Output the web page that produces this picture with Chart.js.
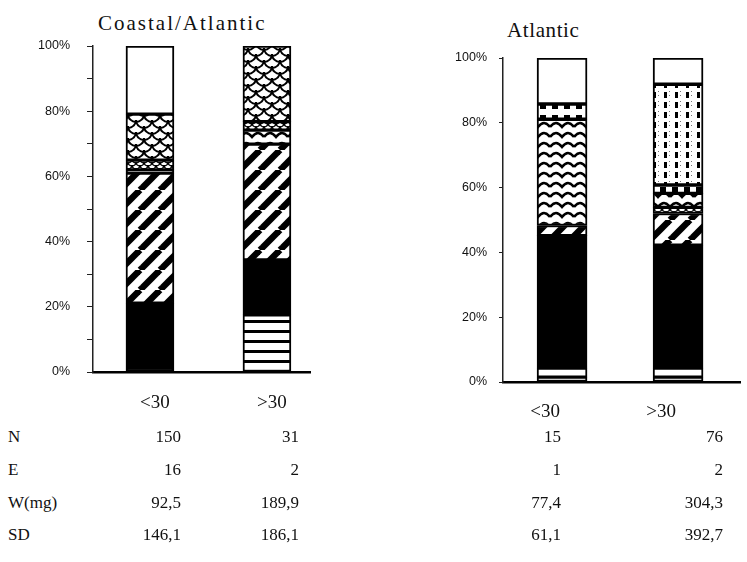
<!DOCTYPE html>
<html>
<head>
<meta charset="utf-8">
<script src="https://cdn.jsdelivr.net/npm/chart.js@4.4.1/dist/chart.umd.min.js"></script>
<style>
  body { margin: 0; background: #fff; width: 747px; height: 562px; position: relative; overflow: hidden;
         font-family: "Liberation Serif", serif; color: #111; }
  canvas { position: absolute; }
  .txt { position: absolute; white-space: nowrap; line-height: 20px; }
</style>
</head>
<body>
<div class="txt" style="left:98px;top:13px;font-size:21px;letter-spacing:2px">Coastal/Atlantic</div>
<div class="txt" style="left:507px;top:20px;font-size:21px;letter-spacing:0.6px">Atlantic</div>
<canvas id="chartLeft" width="330" height="390" style="left:0;top:30px"></canvas>
<canvas id="chartRight" width="317" height="390" style="left:430px;top:40px"></canvas>
<div id="stats"></div>
<script>
// /* data (percent of each prey type, bottom to top) */
const groups = ["<30", ">30"];

// Coastal/Atlantic
const leftStripes = [null, 17.5];
const leftBlack   = [21.1, 16.9];
const leftDiag    = [39.9, 35.5];
const leftGrey    = [1.0, null];
const leftWave    = [null, 4.3];
const leftDots    = [3.0, 2.6];
const leftScales  = [14.1, 23.2];
const leftWhite   = [20.9, null];

// Atlantic
const rightBase    = [1.5, 1.5];
const rightLow     = [2.8, 2.8];
const rightBlack   = [40.9, 37.9];
const rightDiag    = [3.1, 9.8];
const rightSmall   = [null, 1.9];
const rightWave    = [32.8, 4.3];
const rightSquares = [4.7, 2.6];
const rightDashes  = [null, 31.1];
const rightWhite   = [14.2, 8.1];

// table under the charts
const rowNames   = ["N", "E", "W(mg)", "SD"];
const leftStats  = [["150", "31"], ["16", "2"], ["92,5", "189,9"], ["146,1", "186,1"]];
const rightStats = [["15", "76"], ["1", "2"], ["77,4", "304,3"], ["61,1", "392,7"]];

/* fill patterns */
function makePattern(w, h, draw) {
  const c = document.createElement('canvas');
  c.width = w; c.height = h;
  const g = c.getContext('2d');
  g.fillStyle = '#fff';
  g.fillRect(0, 0, w, h);
  g.fillStyle = '#000';
  g.strokeStyle = '#000';
  draw(g, w, h);
  return g.createPattern(c, 'repeat');
}

const diagonal = makePattern(20, 20, (g, w, h) => {
  g.lineWidth = 6.5;
  for (const o of [-20, 0, 20]) {
    g.beginPath(); g.moveTo(o, h); g.lineTo(o + w, 0); g.stroke();
  }
});
const scales = makePattern(16, 12, g => {
  g.lineWidth = 2;
  for (const [cx, cy] of [[8, 0], [8, 12], [0, 6], [16, 6], [0, -6], [16, -6]]) {
    g.beginPath(); g.arc(cx, cy, 8, 0, Math.PI); g.stroke();
  }
});
const smallScales = makePattern(8, 6, g => {
  g.lineWidth = 1.5;
  for (const [cx, cy] of [[4, 0], [4, 6], [0, 3], [8, 3], [0, -3], [8, -3]]) {
    g.beginPath(); g.arc(cx, cy, 4, 0, Math.PI); g.stroke();
  }
});
const wave = makePattern(24, 10, g => {
  g.lineWidth = 2.5;
  g.beginPath();
  g.moveTo(0, 7);
  g.quadraticCurveTo(6, -1, 12, 7);
  g.quadraticCurveTo(18, -1, 24, 7);
  g.stroke();
});
const squares = makePattern(12, 12, g => { g.fillRect(2, 3, 6, 6); });
const dashes = makePattern(11, 10, g => {
  g.fillRect(3, 2, 3, 6);
  g.fillStyle = '#777';
  g.fillRect(8, 1, 1, 1);
  g.fillRect(8, 5, 1, 1);
});
const hstripes = makePattern(8, 10, g => { g.fillRect(0, 0, 8, 3); });

function series(values, fill, thickness) {
  return {
    data: values.map((v, i) => ({ x: i, y: v })),
    backgroundColor: fill,
    borderColor: '#000',
    borderWidth: 2,
    borderSkipped: false,
    barThickness: thickness
  };
}

function buildChart(canvas, datasets, o) {
  return new Chart(canvas, {
    type: 'bar',
    data: { datasets: datasets },
    options: {
      responsive: false,
      animation: false,
      events: [],
      layout: { padding: { top: o.top, right: o.right, left: 0, bottom: 0 } },
      plugins: { legend: { display: false }, tooltip: { enabled: false } },
      scales: {
        x: {
          type: 'linear',
          stacked: true,
          offset: false,
          min: o.xMin,
          max: o.xMax,
          afterFit: s => { s.height = 48; },
          afterBuildTicks: s => { s.ticks = groups.map((g, i) => ({ value: i })); },
          grid: { drawOnChartArea: false, drawTicks: false },
          border: { color: '#000', width: 2.5 },
          ticks: {
            callback: v => groups[v],
            padding: o.xPad,
            labelOffset: o.labelShift,
            color: '#111',
            font: { family: 'Liberation Serif', size: 19 }
          }
        },
        y: {
          stacked: true,
          min: 0,
          max: 100,
          // fixed axis position; tick padding must not push the plot area down
          afterFit: s => { s.width = o.axisLeft; s.paddingTop = 0; s.paddingBottom = 0; },
          grid: { drawOnChartArea: false, tickLength: o.tickLen, color: '#222' },
          border: { color: '#222', width: 1.5 },
          ticks: {
            stepSize: o.step,
            autoSkip: false,
            padding: o.yPad,
            color: '#111',
            font: { family: 'Liberation Sans', size: 12.5 },
            callback: v => (v % 20 === 0 ? v + '%' : '')
          }
        }
      }
    }
  });
}

buildChart(document.querySelector('#chartLeft'), [
  series(leftStripes, hstripes, 48),
  series(leftBlack, '#000', 48),
  series(leftDiag, diagonal, 48),
  series(leftGrey, '#9a9a9a', 48),
  series(leftWave, wave, 48),
  series(leftDots, smallScales, 48),
  series(leftScales, scales, 48),
  series(leftWhite, '#fff', 48)
], { top: 16, right: 20, axisLeft: 93, xMin: -0.487, xMax: 1.368, step: 10, tickLen: 6, yPad: 17, xPad: 20, labelShift: 5 });

buildChart(document.querySelector('#chartRight'), [
  series(rightBase, '#fff', 50),
  series(rightLow, '#fff', 50),
  series(rightBlack, '#000', 50),
  series(rightDiag, diagonal, 50),
  series(rightSmall, smallScales, 50),
  series(rightWave, wave, 50),
  series(rightSquares, squares, 50),
  series(rightDashes, dashes, 50),
  series(rightWhite, '#fff', 50)
], { top: 18, right: 7, axisLeft: 73, xMin: -0.509, xMax: 1.534, step: 20, tickLen: 4, yPad: 12, xPad: 19, labelShift: -17 });

/* table of sample sizes and weights */
const statsBox = document.querySelector('#stats');
const colRight = [181, 299, 561, 723];
const rowMid = [437, 470, 503, 535];
function addText(text, left, mid, align) {
  const d = document.createElement('div');
  d.className = 'txt';
  d.style.fontSize = '17px';
  d.style.top = (mid - 10) + 'px';
  if (align === 'right') {
    d.style.left = (left - 100) + 'px';
    d.style.width = '100px';
    d.style.textAlign = 'right';
  } else {
    d.style.left = left + 'px';
  }
  d.textContent = text;
  statsBox.appendChild(d);
}
rowNames.forEach((name, r) => {
  addText(name, 8, rowMid[r], 'left');
  const cells = leftStats[r].concat(rightStats[r]);
  cells.forEach((c, k) => addText(c, colRight[k], rowMid[r], 'right'));
});
</script>
</body>
</html>
